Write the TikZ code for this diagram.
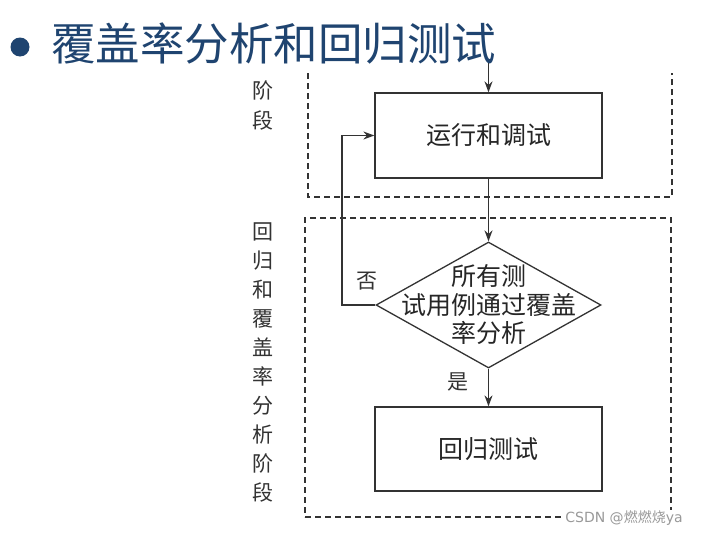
\documentclass[tikz,border=0pt]{standalone}
\usepackage{fontspec}
\newfontfamily\cjk{Noto Sans CJK SC}
\usetikzlibrary{arrows.meta,shapes.geometric}
\definecolor{titleblue}{HTML}{1F4470}
\definecolor{linegray}{HTML}{333333}
\begin{document}
\begin{tikzpicture}[x=1pt,y=-1pt,
  every node/.style={font=\cjk},
  procbox/.style={draw=linegray,line width=1.3pt,minimum width=227pt,minimum height=85pt,inner sep=0pt,fill=white},
  decbox/.style={diamond,draw=linegray,line width=1.3pt,minimum width=225pt,minimum height=126pt,inner sep=0pt},
  phase/.style={draw=linegray,line width=1.1pt,dash pattern=on 6pt off 4pt},
  flow/.style={draw=linegray,line width=1.3pt},
  flowarrow/.style={flow,-{Stealth[length=11pt,width=8pt]}},
  boxtext/.style={font=\cjk\fontsize{25}{28}\selectfont,text=black!85},
  sidetext/.style={font=\cjk\fontsize{21}{30}\selectfont,text=black!80,align=center},
]
\useasboundingbox (0,0) rectangle (703,538);
\fill[white] (0,0) rectangle (703,538);
% title
\fill[titleblue] (20,47) circle (9.5pt);
\node[font=\cjk\fontsize{44.5}{50}\selectfont,text=titleblue,anchor=west,inner sep=0pt] (title) at (51,44) {覆盖率分析和回归测试};
% phase frames
\coordinate (ptl) at (308,73);
\coordinate (pbr) at (672,197);
\draw[phase] (ptl) -- (ptl |- pbr) -- (pbr) -- (pbr |- ptl);
\node[draw=linegray,line width=1.1pt,dash pattern=on 6pt off 4pt,minimum width=366pt,minimum height=299pt,inner sep=0pt] (lower) at (488,367.5) {};
% side labels
\node[sidetext] (s1) at (263,106) {阶\\段};
\node[sidetext,font=\cjk\fontsize{21}{29}\selectfont] (s2) at (263,362) {回\\归\\和\\覆\\盖\\率\\分\\析\\阶\\段};
% nodes
\coordinate (start) at (488.5,63);
\node[procbox] (run) at (488.5,135.5) {};
\node[boxtext] at (run.center) {运行和调试};
\node[decbox] (dec) at (488.5,305) {};
\node[boxtext,align=center,font=\cjk\fontsize{25}{28.5}\selectfont] at (dec.center) {所有测\\试用例通过覆盖\\率分析};
\node[procbox,minimum height=84pt] (reg) at (488.5,449) {};
\node[boxtext] at (reg.center) {回归测试};
% connectors
\draw[flowarrow] (start) -- (run.north);
\draw[flowarrow] (run.south) -- (dec.north);
\draw[flowarrow] (dec.south) -- (reg.north);
\coordinate (loop) at (342,0);
\draw[flowarrow] (dec.west) -- (loop |- dec.west) -- (loop |- run.west) -- (run.west);
\node[sidetext] (no) at (367,281) {否};
\node[sidetext] (yes) at (458,382) {是};
% watermark
\node[fill=white,inner sep=1pt,font=\fontspec{DejaVu Sans}\fontsize{14}{14}\selectfont,text=black!40] (wm) at (624,518) {CSDN @\cjk 燃燃烧\fontspec{DejaVu Sans}ya};
\end{tikzpicture}
\end{document}
